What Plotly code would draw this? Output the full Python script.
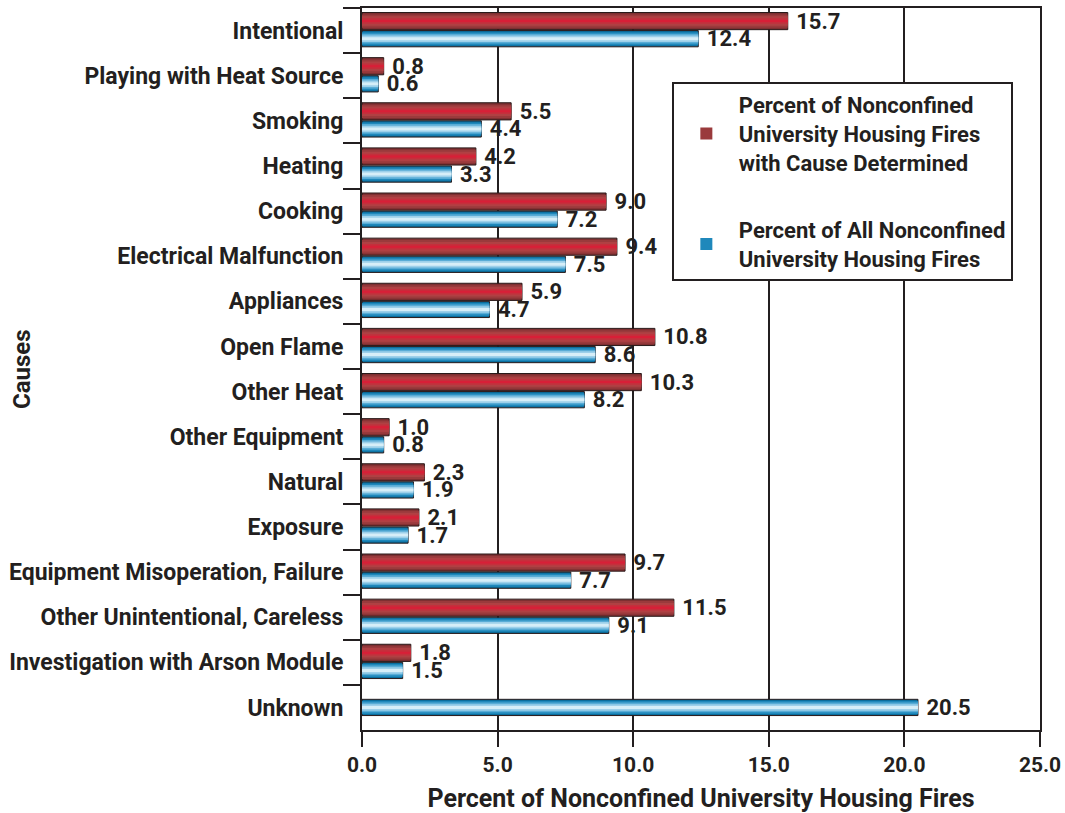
import plotly.graph_objects as go

causes = ["Intentional", "Playing with Heat Source", "Smoking", "Heating", "Cooking",
          "Electrical Malfunction", "Appliances", "Open Flame", "Other Heat",
          "Other Equipment", "Natural", "Exposure", "Equipment Misoperation, Failure",
          "Other Unintentional, Careless", "Investigation with Arson Module", "Unknown"]
pct_cause_determined = [15.7, 0.8, 5.5, 4.2, 9.0, 9.4, 5.9, 10.8, 10.3, 1.0, 2.3, 2.1,
                        9.7, 11.5, 1.8, None]
pct_all = [12.4, 0.6, 4.4, 3.3, 7.2, 7.5, 4.7, 8.6, 8.2, 0.8, 1.9, 1.7, 7.7, 9.1, 1.5, 20.5]
x_ticks = [0, 5, 10, 15, 20, 25]
x_tick_labels = ["0.0", "5.0", "10.0", "15.0", "20.0", "25.0"]

name_red = "<b>Percent of Nonconfined<br>University Housing Fires<br>with Cause Determined</b>"
name_blue = "<b>Percent of All Nonconfined<br>University Housing Fires</b>"

FONT = "Roboto, Liberation Sans, sans-serif"
TXT = "#231f20"
NB = "\u00a0"

red_layers = [(1.0, "#7e2f31"), (0.78, "#9a3a3c"), (0.55, "#b04043"), (0.32, "#c52f3c"), (0.12, "#d81f37")]
blue_layers = [(1.0, "#0a6d9c"), (0.8, "#1f88bb"), (0.6, "#58acd6"), (0.4, "#9dd0ea"), (0.18, "#d6eef8")]

W_RED, W_BLUE = 0.38, 0.36
C_RED = -0.40 + W_RED / 2
C_BLUE = 0.0 + W_BLUE / 2

fig = go.Figure()

def add_layers(vals, layers, wfull, centers, name, legend_layer=1):
    for i, (frac, col) in enumerate(layers):
        w = wfull * frac
        offs = [c - w / 2 for c in centers]
        first = i == 0
        fig.add_trace(go.Bar(
            y=causes, x=vals, orientation="h",
            width=w, offset=offs,
            marker=dict(color=col,
                        line=dict(color="#2a1a1a" if first else col, width=1 if first else 0)),
            name=name, showlegend=(i == legend_layer), legendgroup=name,
            text=[(NB + "%.1f" % v) if (first and v is not None) else "" for v in vals],
            texttemplate="<b>%{text}</b>" if first else None,
            textposition="outside" if first else "none",
            constraintext="none",
            textfont=dict(family=FONT, size=22, color=TXT),
            cliponaxis=False, hoverinfo="skip",
        ))

red_centers = [C_RED for _ in causes]
blue_centers = [C_BLUE if v is not None else 0.0 for v in pct_cause_determined]
add_layers(pct_cause_determined, red_layers, W_RED, red_centers, name_red)
add_layers(pct_all, blue_layers, W_BLUE, blue_centers, name_blue)

fig.update_layout(
    width=1065, height=813,
    margin=dict(l=362, r=25, t=8, b=83),
    barmode="overlay",
    plot_bgcolor="white", paper_bgcolor="white",
    font=dict(family=FONT, size=20, color=TXT),
    showlegend=True,
    legend=dict(x=0.457, y=0.8975, xanchor="left", yanchor="top",
                bgcolor="white", bordercolor="#231f20", borderwidth=2,
                font=dict(family=FONT, size=22, color=TXT),
                tracegroupgap=36, itemwidth=55),
    xaxis=dict(range=[0, 25], tickvals=x_ticks, ticktext=["<b>%s</b>" % t for t in x_tick_labels],
               showgrid=True, gridcolor="#231f20", gridwidth=2,
               showline=True, linecolor="#231f20", linewidth=2, mirror=True,
               ticks="outside", ticklen=15, tickwidth=2, tickcolor="#231f20",
               tickfont=dict(family=FONT, size=21, color=TXT),
               ticklabeloverflow="allow",
               title=dict(text="<b>Percent of Nonconfined University Housing Fires</b>",
                          font=dict(family=FONT, size=25, color=TXT), standoff=14),
               zeroline=False, fixedrange=True, automargin=False),
    yaxis=dict(categoryorder="array", categoryarray=causes, autorange="reversed",
               tickson="boundaries", ticks="outside", ticklen=17, tickwidth=2,
               tickcolor="#231f20", showline=True, linecolor="#231f20", linewidth=2,
               mirror=True, showgrid=False, ticklabelstandoff=12,
               tickfont=dict(family=FONT, size=23, color=TXT),
               fixedrange=True, automargin=False),
    annotations=[dict(text="<b>Causes</b>", xref="paper", yref="paper",
                      x=-0.5015, y=0.5, xanchor="center", yanchor="middle",
                      textangle=-90, showarrow=False,
                      font=dict(family=FONT, size=24, color=TXT))],
)

fig.update_yaxes(tickprefix="<b>", ticksuffix="</b>")
fig.write_html("out.html", config={"displayModeBar": False},
               post_script="document.body.style.margin='0';document.body.style.overflow='hidden';")
